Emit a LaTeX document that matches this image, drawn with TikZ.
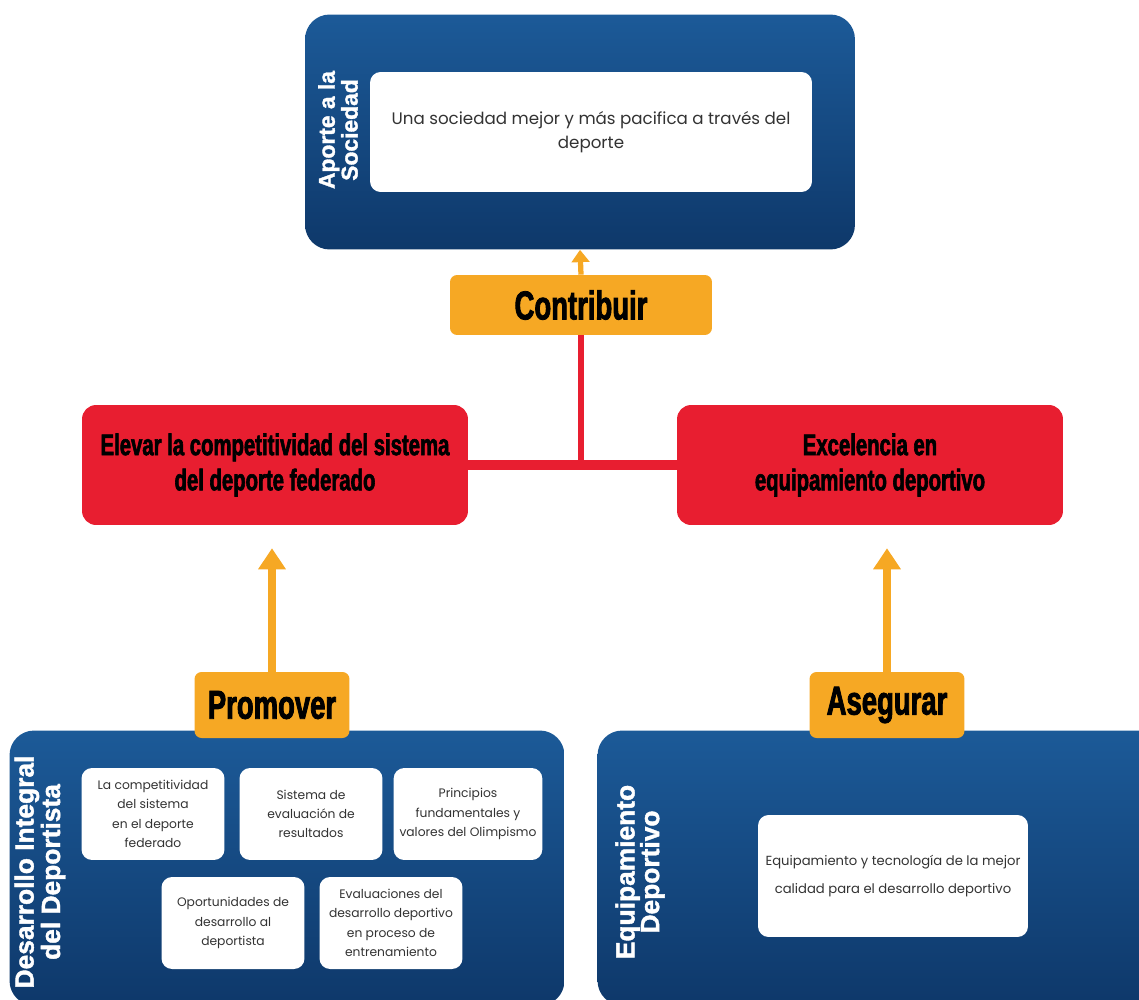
\documentclass[tikz,border=0pt]{standalone}
\usepackage{fontspec}
\setmainfont{Poppins}
\newfontfamily\condfont[FakeStretch=0.68,FakeBold=2]{Liberation Sans}
\newfontfamily\labelfont[FakeBold=1.5]{Liberation Sans}
\usetikzlibrary{arrows.meta}
\definecolor{navy}{RGB}{28,90,152}
\definecolor{navydark}{RGB}{14,56,106}
\definecolor{signalred}{RGB}{232,30,48}
\definecolor{amber}{RGB}{246,168,36}
\begin{document}
\begin{tikzpicture}[x=0.02cm, y=-0.02cm,
  bluebox/.style={rounded corners=14pt, top color=navy, bottom color=navydark},
  whitebox/.style={fill=white, rounded corners=6pt, align=center, text=black!80,
    font=\fontsize{7}{11}\selectfont, minimum width=2.86cm, minimum height=1.84cm},
  redbox/.style={fill=signalred, rounded corners=8pt, align=center,
    font=\condfont\bfseries\fontsize{17}{20}\selectfont, minimum width=7.72cm, minimum height=2.4cm},
  verbbox/.style={fill=amber, rounded corners=4pt, font=\condfont\bfseries\fontsize{23}{24}\selectfont},
  sidelabel/.style={rotate=90, text=white, align=center, font=\labelfont\bfseries\fontsize{13}{13}\selectfont},
  uparrow/.style={amber, line width=4.5pt, -{Triangle[width=15pt,length=12pt]}},
  redline/.style={signalred, line width=6pt}]
  \clip (0,0) rectangle (1139,1000);
  % top block
  \node[bluebox, minimum width=11cm, minimum height=4.7cm] (aporte) at (580,132) {};
  \node[whitebox, minimum width=8.84cm, minimum height=2.4cm, font=\fontsize{9.5}{14}\selectfont] (sociedad) at (591,132)
    {Una sociedad mejor y más pacifica a través del\\deporte};
  \node[sidelabel] (aportelbl) at (338,130) {Aporte a la\\Sociedad};
  \node[verbbox, minimum width=5.24cm, minimum height=1.2cm] (contribuir) at (581,305) {Contribuir};
  \draw[uparrow, line width=3pt, -{Triangle[width=10pt,length=7pt]}] (contribuir.north) -- (aporte.south);
  % objectives
  \node[redbox] (elevar) at (275,465) {Elevar la competitividad del sistema\\del deporte federado};
  \node[redbox] (excel) at (870,465) {Excelencia en\\equipamiento deportivo};
  \draw[redline] (elevar.east) -- (excel.west);
  \draw[signalred, line width=3.5pt] (contribuir.south) -- (contribuir.south |- elevar.east);
  % bottom blocks
  \node[bluebox, minimum width=11.1cm, minimum height=5.5cm] (integral) at (287,868) {};
  \node[bluebox, minimum width=11.3cm, minimum height=5.5cm] (equipo) at (880,868) {};
  \node[sidelabel, font=\labelfont\bfseries\fontsize{15}{14}\selectfont] (integrallbl) at (40,872) {Desarrollo Integral\\del Deportista};
  \node[sidelabel, font=\labelfont\bfseries\fontsize{15}{14}\selectfont] (equipolbl) at (640,872) {Equipamiento\\Deportivo};
  \node[whitebox] (compet) at (153,814) {La competitividad\\del sistema\\en el deporte\\federado};
  \node[whitebox] (sistema) at (311,814) {Sistema de\\evaluación de\\resultados};
  \node[whitebox] (principios) at (468,814) {Principios\\fundamentales y\\valores del Olimpismo};
  \node[whitebox] (oportunidades) at (233,923) {Oportunidades de\\desarrollo al\\deportista};
  \node[whitebox] (evaluaciones) at (391,923) {Evaluaciones del\\desarrollo deportivo\\en proceso de\\entrenamiento};
  \node[whitebox, minimum width=5.4cm, minimum height=2.44cm, font=\fontsize{7.5}{16}\selectfont] (tecnologia) at (893,876)
    {Equipamiento y tecnología  de la mejor\\calidad para el desarrollo deportivo};
  \node[verbbox, minimum width=3.1cm, minimum height=1.32cm] (promover) at (272,705) {Promover};
  \node[verbbox, minimum width=3.1cm, minimum height=1.32cm] (asegurar) at (887,705) {Asegurar};
  \draw[uparrow, shorten >=13pt] (promover.north) -- (promover.north |- elevar.south);
  \draw[uparrow, shorten >=13pt] (asegurar.north) -- (asegurar.north |- excel.south);
\end{tikzpicture}
\end{document}
